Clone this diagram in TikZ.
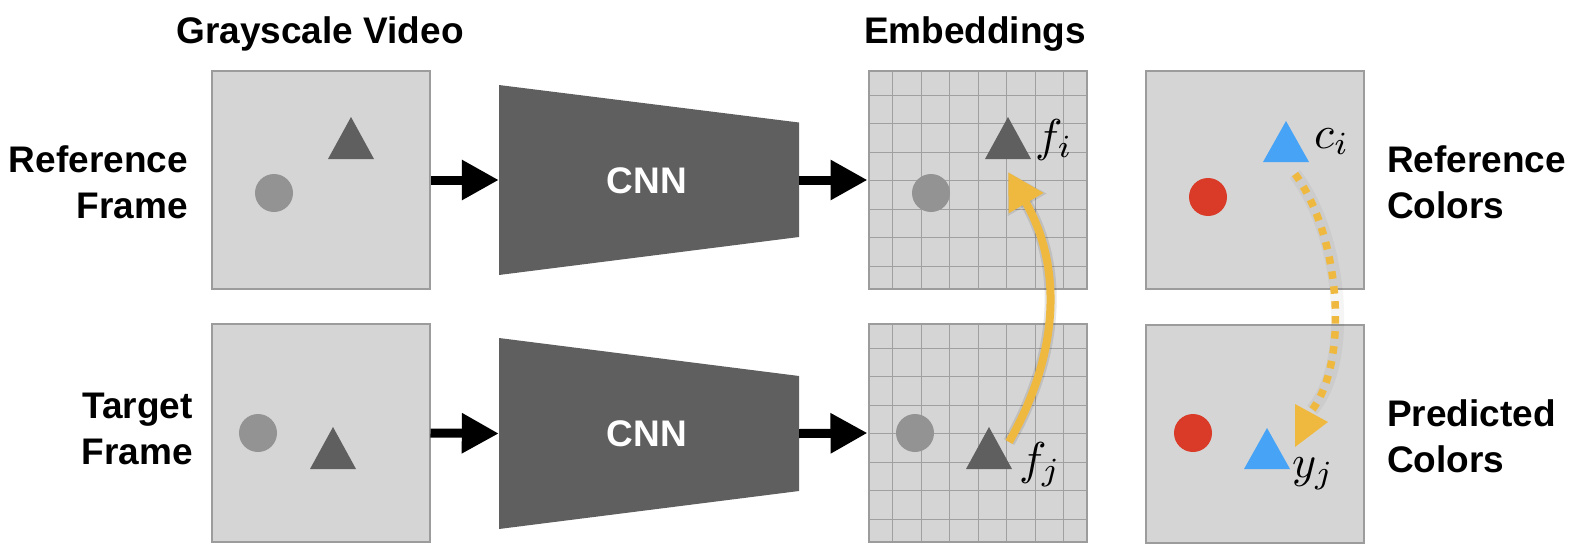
\documentclass[tikz,border=0pt]{standalone}
\usepackage{graphicx}
\usepackage{fontspec}
\setmainfont{Liberation Sans}
\usetikzlibrary{arrows.meta}
\definecolor{boxfill}{HTML}{D5D5D5}
\definecolor{boxline}{HTML}{9C9C9C}
\definecolor{gridcol}{HTML}{A0A0A0}
\definecolor{darkshape}{HTML}{5F5F5F}
\definecolor{midshape}{HTML}{939393}
\definecolor{goldy}{HTML}{EFB940}
\definecolor{bluey}{HTML}{47A3F5}
\definecolor{redy}{HTML}{DA3B28}
\newcommand{\bigmath}[1]{\scalebox{4.6}{$#1$}}
\tikzset{
  framebox/.style={draw=boxline, line width=2pt, fill=boxfill, minimum width=218pt, minimum height=218pt, inner sep=0pt},
  gridline/.style={draw=gridcol, line width=1.1pt},
  lbl/.style={font=\fontsize{37}{46}\selectfont\bfseries, inner sep=0pt, align=center},
  lblr/.style={lbl, align=right},
  lbll/.style={lbl, align=left},
  cnntext/.style={text=white, font=\fontsize{37}{46}\selectfont\bfseries, inner sep=0pt},
  cnnbox/.style={minimum width=300pt, minimum height=190pt, inner sep=0pt},
  flow/.style={line width=9pt, -{Triangle[length=37pt,width=38pt]}},
  mathlbl/.style={inner sep=0pt, anchor=base west},
  goldarrow/.style={draw=goldy, line width=8pt, -{Triangle[length=36pt,width=38pt]}},
  shadowarrow/.style={draw=black, opacity=0.10, line width=12pt, -{Triangle[length=38pt,width=42pt]}},
  dotline/.style={draw=goldy, line width=7.5pt, dash pattern=on 7.5pt off 7.5pt},
}
\begin{document}
\begin{tikzpicture}[x=1pt,y=-1pt]
\useasboundingbox (0,0) rectangle (1576,554);

% titles
\node[lbl, anchor=base] (t1) at (320,43) {Grayscale Video};
\node[lbl, anchor=base] (t2) at (975,43) {Embeddings};

% side labels (base = baseline of last line)
\node[lblr, anchor=base east] (l1) at (188,218) {Reference\\Frame};
\node[lblr, anchor=base east] (l2) at (193,464) {Target\\Frame};
\node[lbll, anchor=base west] (l3) at (1387,218) {Reference\\Colors};
\node[lbll, anchor=base west] (l4) at (1387,472) {Predicted\\Colors};

% grayscale frames
\node[framebox] (ga) at (320.5,180) {};
\node[framebox] (gb) at (320.5,433) {};
\fill[midshape] (274,193) circle (19);
\fill[darkshape] (351,117) -- (374,159) -- (328,159) -- cycle;
\fill[midshape] (258,433) circle (19);
\fill[darkshape] (333,427) -- (356,469) -- (310,469) -- cycle;

% CNNs
\node[cnnbox] (ca) at (649,180) {};
\node[cnnbox] (cb) at (649,433.5) {};
\fill[darkshape] (499,85) -- (799,122.5) -- (799,237) -- (499,275) -- cycle;
\fill[darkshape] (499,338) -- (799,376) -- (799,491) -- (499,529) -- cycle;
\node[cnntext] (cat) at (647,181) {CNN};
\node[cnntext] (cbt) at (647,434) {CNN};

% embeddings
\node[framebox] (ea) at (977.5,180) {};
\node[framebox] (eb) at (977.5,433) {};
\foreach \top in {71,324}{
  \foreach \k in {0,...,6}{
    \pgfmathsetmacro{\gx}{round(892+28.5*\k)+0.5}
    \pgfmathsetmacro{\gy}{round(\top+23.5+28.5*\k)+0.5}
    \draw[gridline] (\gx,\top) -- (\gx,\top+218);
    \draw[gridline] (868.5,\gy) -- (1086.5,\gy);
  }
  \draw[boxline, line width=2pt] (868.5,\top) rectangle (1086.5,\top+218);
}
\fill[midshape] (931,193) circle (19);
\fill[darkshape] (1008,117) -- (1031,159) -- (985,159) -- cycle;
\fill[midshape] (915,433) circle (19);
\fill[darkshape] (989,427) -- (1012,469) -- (966,469) -- cycle;
\node[mathlbl] (fi) at (1035,151) {\bigmath{f_i}};
\node[mathlbl] (fj) at (1019,474) {\bigmath{f_j}};

% colour frames
\node[framebox] (ra) at (1255,180) {};
\node[framebox] (rb) at (1255,433.5) {};
\fill[redy] (1208,197) circle (19);
\fill[bluey] (1286,121) -- (1309,162) -- (1263,162) -- cycle;
\fill[redy] (1193,433) circle (19);
\fill[bluey] (1267,428) -- (1290,469) -- (1244,469) -- cycle;
\node[mathlbl] (ci) at (1314,148) {\bigmath{c_i}};
\node[mathlbl] (yj) at (1292,477) {\bigmath{y_j}};

% black flow arrows
\draw[flow] (ga.east) -- (ca.west);
\draw[flow] (ca.east) -- (ea.west);
\draw[flow] (gb.east) -- (cb.west);
\draw[flow] (cb.east) -- (eb.west);

% golden solid arrow with soft shadow
\coordinate (js) at (1009,442);
\coordinate (it) at (1008,172);
\draw[shadowarrow, xshift=3pt, yshift=-3pt] (js) to[bend right=30] (it);
\draw[goldarrow] (js) to[bend right=30] (it);

% golden dotted arrow
\coordinate (cs) at (1295,174);
\coordinate (ce) at (1312,410);
\draw[draw=black, opacity=0.04, line width=13pt, xshift=3pt, yshift=-3pt] (cs) .. controls (1340,235) and (1350,360) .. (ce);
\draw[dotline] (cs) .. controls (1340,235) and (1350,360) .. (ce);
\fill[goldy] (1295,404) -- (1328,422) -- (1295,447) -- cycle;
\end{tikzpicture}
\end{document}
